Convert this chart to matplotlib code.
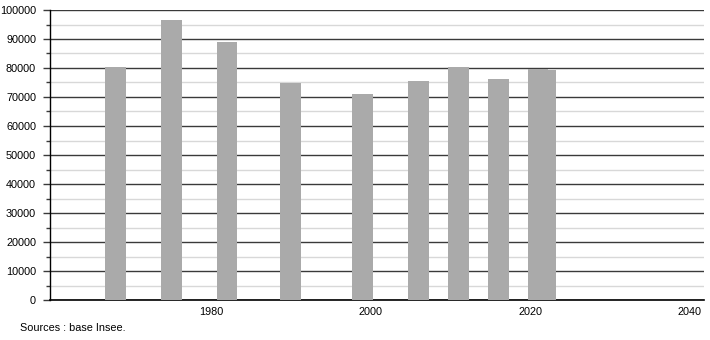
import matplotlib
matplotlib.use("Agg")
import matplotlib.pyplot as plt
from matplotlib.ticker import MultipleLocator

years = [1968, 1975, 1982, 1990, 1999, 2006, 2011, 2016, 2021, 2022]
population = [80300, 96700, 89000, 74700, 71100, 75500, 80300, 76200, 79700, 79300]
x_ticks = [1980, 2000, 2020, 2040]
y_ticks = list(range(0, 100001, 10000))
source_text = "Sources : base Insee."

plt.rcParams['font.family'] = ['Liberation Sans', 'DejaVu Sans']

fig = plt.figure(figsize=(7.1, 3.4), dpi=100)
ax = fig.add_axes([50/710, 40/340, 654/710, 290/340])

ax.bar(years, population, width=2.6, color='#aaaaaa', zorder=3, linewidth=0)

ax.set_xlim(1959.8, 2041.8)
ax.set_ylim(0, 100000)
ax.set_xticks(x_ticks)
ax.set_xticklabels([str(t) for t in x_ticks])
ax.set_yticks(y_ticks)
ax.set_yticklabels([str(t) for t in y_ticks])
ax.yaxis.set_minor_locator(MultipleLocator(5000))

ax.grid(axis='y', which='major', color='#3a3a3a', linewidth=1.0, zorder=1)
ax.grid(axis='y', which='minor', color='#d8d8d8', linewidth=1.0, zorder=1)
ax.set_axisbelow(True)

for s in ['top', 'right']:
    ax.spines[s].set_visible(False)
ax.spines['left'].set_color('black')
ax.spines['bottom'].set_color('black')
ax.spines['left'].set_linewidth(1.0)
ax.spines['bottom'].set_linewidth(1.2)

ax.tick_params(axis='y', which='major', length=5, width=1, color='#3a3a3a', labelsize=7.8, pad=5)
ax.tick_params(axis='y', which='minor', length=3, width=1, color='#3a3a3a')
ax.tick_params(axis='x', which='major', length=0, labelsize=7.8, pad=5)

fig.text(20/710, 1 - 328/340, source_text, fontsize=7.8, va='center', ha='left')

fig.savefig('out.png', dpi=100, facecolor='white')
